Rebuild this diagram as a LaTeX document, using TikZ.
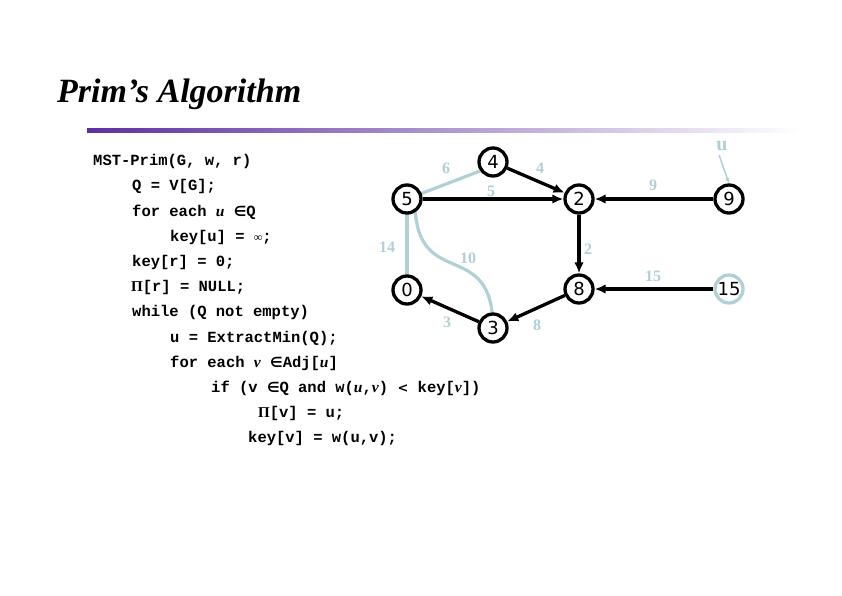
\documentclass[tikz,border=0pt]{standalone}
\usepackage{fontspec}
\setmainfont{Liberation Serif}
\setmonofont{Liberation Mono}
\newfontfamily\digitfont{DejaVu Sans}
\newfontfamily\symfont{DejaVu Sans}
\usetikzlibrary{arrows.meta}
\definecolor{lb}{RGB}{176,208,214}
\definecolor{titlepurple}{RGB}{92,48,160}
\newcommand{\iu}{\textrm{\textbf{\textit{u}}}}
\newcommand{\iv}{\textrm{\textbf{\textit{v}}}}
\newcommand{\elem}{{\symfont\fontsize{14}{14}\selectfont ∈}}
\newcommand{\bigpi}{{\rmfamily\fontsize{15}{15}\selectfont Π}}
\begin{document}
\begin{tikzpicture}[x=1pt,y=-1pt,
  vtx/.style={circle,draw=black,line width=3.3pt,fill=white,minimum size=28pt,inner sep=0pt,font=\digitfont\fontsize{18}{18}\selectfont},
  lvtx/.style={vtx,draw=lb},
  tree/.style={line width=3.3pt,-{Latex[length=11pt,width=9.5pt]}},
  light/.style={lb,line width=3.2pt},
  wlab/.style={text=lb,font=\rmfamily\fontsize{16}{16}\selectfont\bfseries,inner sep=0pt},
  code/.style={anchor=base west,inner sep=0pt,font=\ttfamily\bfseries\fontsize{15.5}{15.5}\selectfont}]
\useasboundingbox (0,0) rectangle (842,595);
\fill[white] (0,0) rectangle (842,595);
% title
\node[anchor=base west,inner sep=0pt,font=\rmfamily\bfseries\itshape\fontsize{34}{34}\selectfont] (title) at (57,102) {Prim’s Algorithm};
\shade[left color=titlepurple,right color=white] (87,128) rectangle (800,132.5);
% code
\node[code] (c1) at (93,165) {MST-Prim(G, w, r)};
\node[code] (c2) at (132,190) {Q = V[G];};
\node[code] (c3) at (132,216) {for each \iu{} \elem Q};
\node[code] (c4) at (170,241) {key[u] = {\rmfamily\fontsize{12}{12}\selectfont ∞};};
\node[code] (c5) at (132,266) {key[r] = 0;};
\node[code] (c6) at (131,291) {\bigpi[r] = NULL;};
\node[code] (c7) at (132,316) {while (Q not empty)};
\node[code] (c8) at (170,342) {u = ExtractMin(Q);};
\node[code] (c9) at (170,367) {for each \iv{} \elem Adj[\iu]};
\node[code] (c10) at (211,392) {if (v \elem Q and w(\iu,\iv) {\symfont\fontsize{13}{13}\selectfont <} key[\iv])};
\node[code] (c11) at (258,417) {\bigpi[v] = u;};
\node[code] (c12) at (248,442) {key[v] = w(u,v);};
% light edges (drawn first)
\coordinate (p5) at (407,199);
\coordinate (p4) at (493,162);
\coordinate (p0) at (407,290);
\coordinate (p3) at (493,328);
\draw[light] (p5) -- ([shift={(0,4)}]p4);
\draw[light] (p5) -- (p0);
\draw[light] (415,205) .. controls (417,292) and (493,236) .. (p3);
% vertices
\node[vtx] (v4) at (p4) {4};
\node[vtx] (v5) at (p5) {5};
\node[vtx] (v2) at (579,199) {2};
\node[vtx] (v9) at (729,199) {9};
\node[vtx] (v0) at (p0) {0};
\node[vtx] (v8) at (579,289) {8};
\node[lvtx] (v15) at (729,289) {15};
\node[vtx] (v3) at (p3) {3};
% tree edges
\draw[tree] (v4) -- (v2);
\draw[tree] (v5) -- (v2);
\draw[tree] (v9) -- (v2);
\draw[tree] (v2) -- (v8);
\draw[tree] (v15) -- (v8);
\draw[tree] (v8) -- (v3);
\draw[tree] (v3) -- (v0);
% weights
\node[wlab] (w6) at (446,168) {6};
\node[wlab] (w4) at (540,168) {4};
\node[wlab] (w5) at (491,191) {5};
\node[wlab] (w9) at (653,185) {9};
\node[wlab] (w14) at (387,247) {14};
\node[wlab] (w10) at (468,258) {10};
\node[wlab] (w2) at (588,249) {2};
\node[wlab] (w15) at (653,276) {15};
\node[wlab] (w3) at (447,322) {3};
\node[wlab] (w8) at (537,325) {8};
\node[text=lb,inner sep=0pt,font=\rmfamily\bfseries\fontsize{20}{20}\selectfont] (u) at (722,146) {u};
\draw[lb,line width=1.5pt,-{Latex[length=5pt,width=4.5pt]}] (u.south) ++(-3,4) -- (v9.north);
\end{tikzpicture}
\end{document}
